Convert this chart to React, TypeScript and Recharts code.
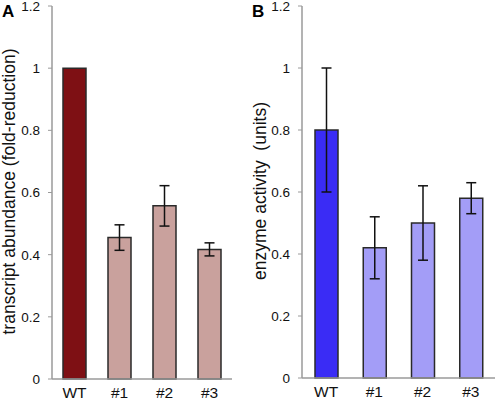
import React from 'react';
import { BarChart, Bar, XAxis, YAxis, ErrorBar, Cell, Label } from 'recharts';

const categories = ['WT', '#1', '#2', '#3'];
const transcriptValues = [1.0, 0.455, 0.557, 0.417];
const transcriptErrors = [0.0, 0.041, 0.065, 0.021];
const enzymeValues = [0.8, 0.42, 0.5, 0.58];
const enzymeErrors = [0.2, 0.1, 0.12, 0.05];
const yTicks = [0, 0.2, 0.4, 0.6, 0.8, 1, 1.2];

const colorsA = ['#7E1014', '#C9A19D', '#C9A19D', '#C9A19D'];
const colorsB = ['#3A2CF5', '#A39DF7', '#A39DF7', '#A39DF7'];

const dataA = categories.map((name, i) => ({ name, value: transcriptValues[i], err: transcriptErrors[i] }));
const dataB = categories.map((name, i) => ({ name, value: enzymeValues[i], err: enzymeErrors[i] }));

const FONT = '"Liberation Sans", Arial, sans-serif';
const AXIS = '#9a9a9a';

const makeYLabel = (text: string, baseX: number, dyCenter: number) => (props: any) => {
  const vb = props.viewBox || { x: 0, y: 0, width: 0, height: 0 };
  const cy = vb.y + vb.height / 2 + dyCenter;
  return (
    <text
      x={baseX}
      y={cy}
      transform={`rotate(-90, ${baseX}, ${cy})`}
      textAnchor="middle"
      fontSize={17.5}
      fontFamily={FONT}
      fill="#111"
      style={{ whiteSpace: 'pre' }}
    >
      {text}
    </text>
  );
};

const YTick = (props: any) => {
  const { x, y, payload } = props;
  const v = Number(Number(payload.value).toFixed(1));
  return (
    <text x={x} y={y} dy="0.36em" textAnchor="end" fontSize={13.5} fontFamily={FONT} fill="#111">
      {String(v)}
    </text>
  );
};

const XTick = (props: any) => {
  const { x, y, payload } = props;
  return (
    <text x={x} y={y} dy="0.72em" textAnchor="middle" fontSize={15.5} fontFamily={FONT} fill="#111">
      {payload.value}
    </text>
  );
};

interface PanelProps {
  data: any[];
  colors: string[];
  letter: string;
  ylabel: string;
  width: number;
  rightMargin: number;
  xHeight: number;
  labelX: number;
  labelDy: number;
}

const Panel = ({ data, colors, letter, ylabel, width, rightMargin, xHeight, labelX, labelDy }: PanelProps) => (
  <div style={{ position: 'relative', width, height: 401 }}>
    <BarChart width={width} height={401} data={data} margin={{ top: 6, right: rightMargin, bottom: 0, left: 0 }} barCategoryGap="0%">
      <XAxis
        dataKey="name"
        height={xHeight}
        tickLine={false}
        tickSize={0}
        tickMargin={8}
        axisLine={{ stroke: AXIS, strokeWidth: 1.5 }}
        tick={<XTick />}
        interval={0}
      />
      <XAxis xAxisId="top" dataKey="name" orientation="top" height={0} tick={false} tickLine={false} axisLine={{ stroke: AXIS, strokeWidth: 1.5 }} />
      <YAxis
        width={52}
        domain={[0, 1.2]}
        ticks={yTicks}
        interval={0}
        tickSize={4}
        tickMargin={8}
        axisLine={{ stroke: AXIS, strokeWidth: 1.5 }}
        tickLine={{ stroke: AXIS }}
        tick={<YTick />}
      >
        <Label content={makeYLabel(ylabel, labelX, labelDy)} />
      </YAxis>
      <YAxis yAxisId="r" orientation="right" width={0} domain={[0, 1.2]} tick={false} tickLine={false} axisLine={{ stroke: AXIS, strokeWidth: 1.5 }} />
      <Bar dataKey="value" barSize={23} stroke="#2a2a2a" strokeWidth={1.5} isAnimationActive={false}>
        {data.map((_, i) => (
          <Cell key={i} fill={colors[i]} />
        ))}
        <ErrorBar dataKey="err" width={5} stroke="#111" strokeWidth={1.5} />
      </Bar>
    </BarChart>
    <div
      style={{
        position: 'absolute',
        left: 2,
        top: 3,
        fontFamily: FONT,
        fontWeight: 'bold',
        fontSize: 17,
        lineHeight: '17px',
        color: '#000',
      }}
    >
      {letter}
    </div>
  </div>
);

export default function App() {
  return (
    <div style={{ position: 'absolute', left: 0, top: 0, width: 498, height: 401, background: '#fff', display: 'flex' }}>
      <Panel data={dataA} colors={colorsA} letter="A" ylabel="transcript abundance (fold-reduction)" width={250} rightMargin={18} xHeight={22} labelX={14.5} labelDy={-1} />
      <Panel data={dataB} colors={colorsB} letter="B" ylabel="enzyme activity  (units)" width={248} rightMargin={3} xHeight={23} labelX={15.5} labelDy={-1} />
    </div>
  );
}
